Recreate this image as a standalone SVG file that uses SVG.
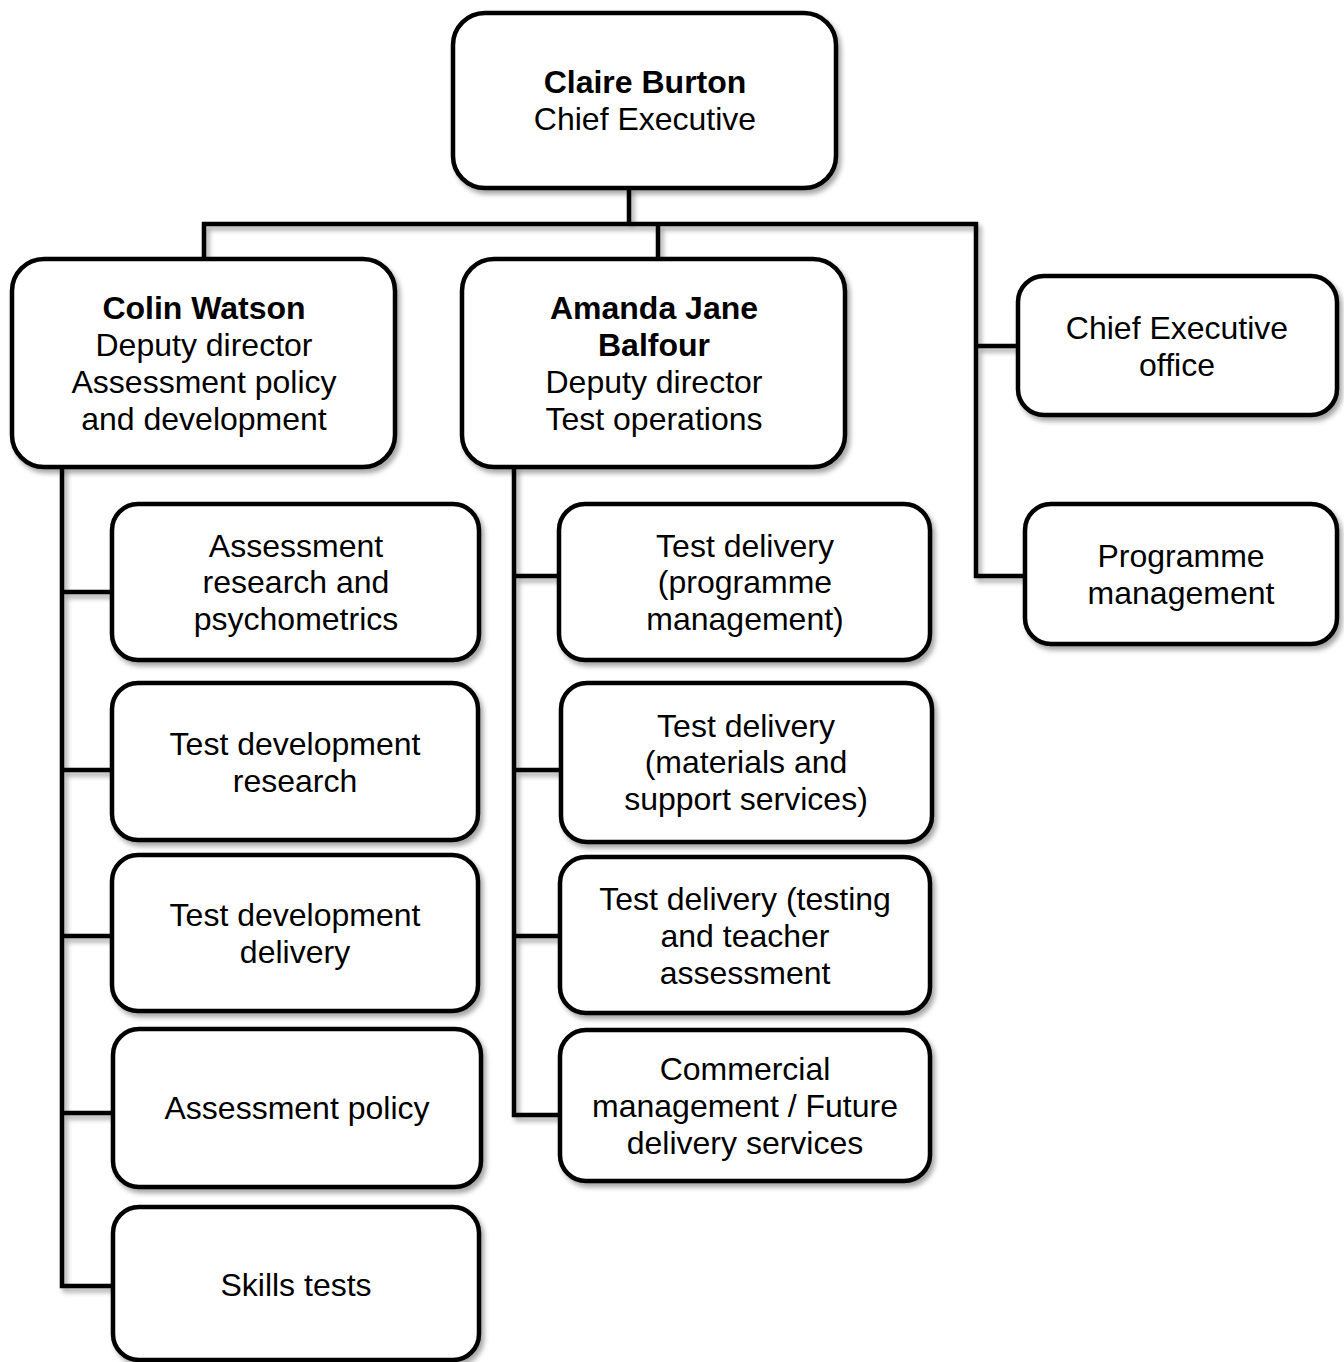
<svg xmlns="http://www.w3.org/2000/svg" width="1344" height="1362" viewBox="0 0 1344 1362">
<defs>
<filter id="sh" x="-10%" y="-10%" width="125%" height="125%">
<feDropShadow dx="3" dy="4" stdDeviation="2.5" flood-color="#000" flood-opacity="0.35"/>
</filter>
</defs>
<style>
.box{fill:#fff;stroke:#000;stroke-width:4.5;filter:url(#sh)}
.ln{fill:none;stroke:#000;stroke-width:4.5;filter:url(#sh)}
text{font-family:"Liberation Sans",Arial,sans-serif;font-size:32px;fill:#000;text-anchor:middle}
.b{font-weight:bold}
</style>
<rect width="1344" height="1362" fill="#fff"/>
<g id="connectors">
<path class="ln" d="M629,188 V224 M204,258 V224 H976 V576 H1025 M658,224 V258 M976,346 H1018"/>
<path class="ln" d="M62,467 V1286 H113 M62,592 H112 M62,770 H112 M62,936 H112 M62,1113 H113"/>
<path class="ln" d="M514,467 V1115 H560 M514,576 H559 M514,770 H561 M514,936 H560"/>
</g>
<g id="ceo"><rect class="box" x="453" y="13" width="383" height="175" rx="32"/>
<text x="645" y="93" class="b">Claire Burton</text><text x="645" y="130">Chief Executive</text></g>
<g id="colin"><rect class="box" x="12" y="259" width="383" height="208" rx="32"/>
<text x="204" y="319" class="b">Colin Watson</text><text x="204" y="356">Deputy director</text><text x="204" y="393">Assessment policy</text><text x="204" y="430">and development</text></g>
<g id="amanda"><rect class="box" x="462" y="259" width="383" height="208" rx="32"/>
<text x="654" y="319" class="b">Amanda Jane</text><text x="654" y="356" class="b">Balfour</text><text x="654" y="393">Deputy director</text><text x="654" y="430">Test operations</text></g>
<g id="ceo-office"><rect class="box" x="1018" y="276" width="319" height="139" rx="26"/>
<text x="1177" y="339">Chief Executive</text><text x="1177" y="376">office</text></g>
<g id="programme"><rect class="box" x="1025" y="504" width="312" height="140" rx="26"/>
<text x="1181" y="567">Programme</text><text x="1181" y="604">management</text></g>
<g id="l1"><rect class="box" x="112" y="504" width="367" height="156" rx="26"/>
<text x="296" y="557">Assessment</text><text x="296" y="593">research and</text><text x="296" y="630">psychometrics</text></g>
<g id="l2"><rect class="box" x="112" y="683" width="366" height="157" rx="26"/>
<text x="295" y="755">Test development</text><text x="295" y="792">research</text></g>
<g id="l3"><rect class="box" x="112" y="855" width="366" height="156" rx="26"/>
<text x="295" y="926">Test development</text><text x="295" y="963">delivery</text></g>
<g id="l4"><rect class="box" x="113" y="1029" width="368" height="158" rx="26"/>
<text x="297" y="1119">Assessment policy</text></g>
<g id="l5"><rect class="box" x="113" y="1207" width="366" height="153" rx="26"/>
<text x="296" y="1296">Skills tests</text></g>
<g id="m1"><rect class="box" x="559" y="504" width="371" height="156" rx="26"/>
<text x="745" y="557">Test delivery</text><text x="745" y="593">(programme</text><text x="745" y="630">management)</text></g>
<g id="m2"><rect class="box" x="561" y="683" width="371" height="159" rx="26"/>
<text x="746" y="737">Test delivery</text><text x="746" y="773">(materials and</text><text x="746" y="810">support services)</text></g>
<g id="m3"><rect class="box" x="560" y="857" width="370" height="156" rx="26"/>
<text x="745" y="910">Test delivery (testing</text><text x="745" y="947">and teacher</text><text x="745" y="984">assessment</text></g>
<g id="m4"><rect class="box" x="560" y="1030" width="370" height="151" rx="26"/>
<text x="745" y="1080">Commercial</text><text x="745" y="1117">management / Future</text><text x="745" y="1154">delivery services</text></g>
</svg>
